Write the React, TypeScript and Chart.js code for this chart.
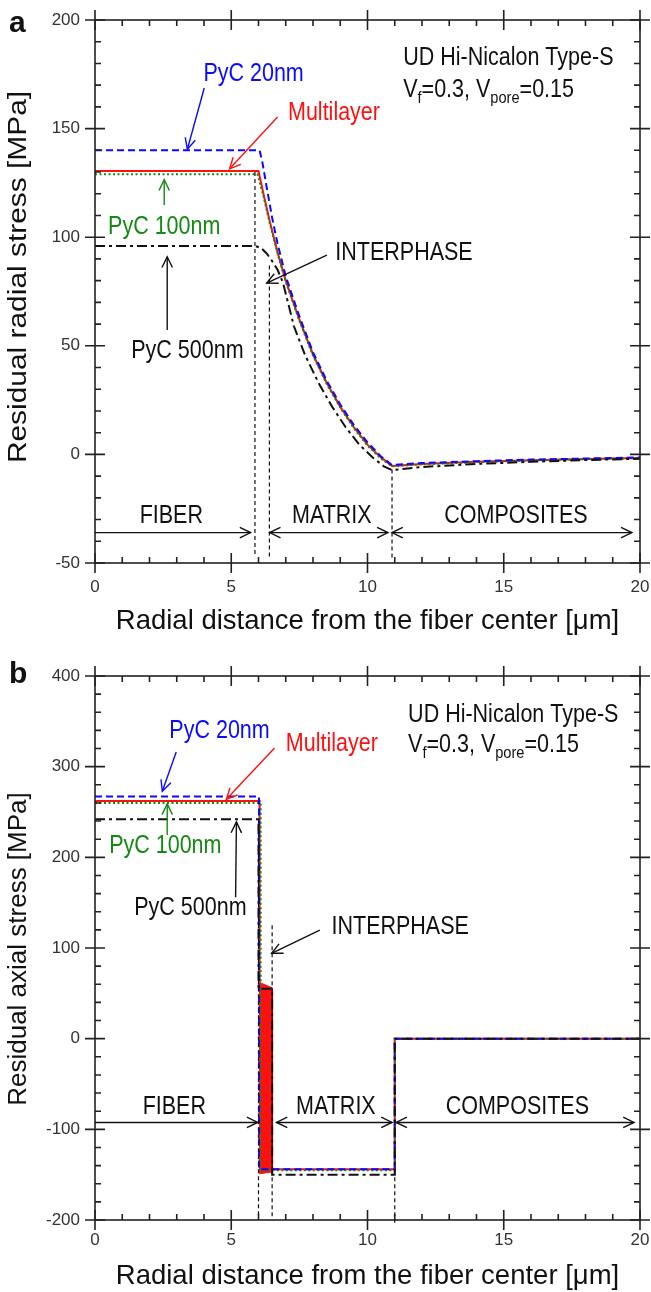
import React, { useEffect, useRef } from "react";
import { Chart, registerables } from "chart.js";

Chart.register(...registerables);

const FONT = "Arial, 'Liberation Sans', Helvetica, sans-serif";
const SX = 0.86; // horizontal condensing of the annotation font

// ---------------- shared x axis ----------------
const xTickValues = [0, 5, 10, 15, 20];
const xTitle = "Radial distance from the fiber center [\u03bcm]";

// ---------------- (a) residual radial stress ----------------
const radialTickValues = [-50, 0, 50, 100, 150, 200];

const radialMultiX = [0, 6.0, 6.2, 6.4, 6.7, 7.0, 7.5, 8.0, 8.5, 9.0, 9.5, 10.0, 10.5, 10.9, 12, 14, 16, 18, 20];
const radialMultiY = [130.5, 130.5, 119, 108, 93, 80, 62, 46, 33, 22, 12.5, 4.5, -1.5, -5.3, -4.4, -3.4, -2.7, -2.1, -1.6];

const radialPyC20X = [0, 6.04, 6.15, 6.3, 6.5, 6.7, 7.0, 7.5, 8.0, 8.5, 9.0, 9.5, 10.0, 10.5, 10.9, 12, 14, 16, 18, 20];
const radialPyC20Y = [140, 140, 134, 123, 109, 97, 82, 63.5, 47, 34, 23, 13.5, 5.5, -1, -4.9, -4.0, -3.1, -2.4, -1.9, -1.4];

const radialPyC100X = [0, 5.96, 6.05, 6.2, 6.4, 6.7, 7.0, 7.5, 8.0, 8.5, 9.0, 9.5, 10.0, 10.5, 10.9, 12, 14, 16, 18, 20];
const radialPyC100Y = [129, 129, 125, 118, 107, 92.5, 79.5, 61.5, 45.5, 32.5, 21.5, 12, 4, -2, -5.5, -4.6, -3.6, -2.8, -2.2, -1.7];

const radialPyC500X = [0, 5.87, 6.1, 6.3, 6.5, 6.7, 6.9, 7.1, 7.3, 7.7, 8.2, 8.7, 9.2, 9.7, 10.2, 10.6, 10.9, 12, 14, 16, 18, 20];
const radialPyC500Y = [96, 96, 95, 92.5, 89, 85, 79, 69, 59, 46, 33, 22, 12.5, 4.5, -1.5, -5.5, -7.2, -5.8, -4.4, -3.4, -2.6, -2.0];

const radialBoundaryX = [5.87, 6.4, 10.9];
const radialBoundaryTop = [130, 87, -7];
const radialBoundaryBottom = [-47, -47, -48];

// ---------------- (b) residual axial stress ----------------
const axialTickValues = [-200, -100, 0, 100, 200, 300, 400];

const axialMultiX = [0, 6.04, 6.04, 6.5, 6.5, 11.0, 11.0, 20];
const axialMultiY = [262, 262, 60, 55, -144, -144, 0, 0];

const axialBandX = [6.04, 6.5, 6.5, 6.04, 6.04];
const axialBandY = [62, 56, -147, -149, 62];

const axialPyC20X = [0, 6.02, 6.02, 11.0, 11.0, 20];
const axialPyC20Y = [267, 267, -144, -144, 0, 0];

const axialPyC100X = [0, 6.08, 6.08, 11.0, 11.0, 20];
const axialPyC100Y = [260, 260, -145, -145, 0, 0];

const axialPyC500X = [0, 6.0, 6.0, 6.5, 6.5, 11.0, 11.0, 20];
const axialPyC500Y = [242, 242, 55, 55, -150, -150, 0, 0];

const axialBoundaryX = [6.0, 6.5, 11.0];
const axialBoundaryTop = [242, 125, -145];
const axialBoundaryBottom = [-196, -197, -203];

// ---------------- styling ----------------
const BLUE = "#0a0aff";
const RED = "#ff1010";
const GREEN = "#148a14";
const BLACK = "#111111";

type Item =
  | { t: "text"; s: string; x: number; y: number; c: string; left?: boolean }
  | { t: "vf"; x: number; y: number }
  | { t: "arrow"; x1: number; y1: number; x2: number; y2: number; c: string; both?: boolean };

const radialItems: Item[] = [
  { t: "text", s: "PyC 20nm", x: 5.82, y: 175.1, c: BLUE },
  { t: "arrow", x1: 4.01, y1: 168.7, x2: 3.39, y2: 140.5, c: BLUE },
  { t: "text", s: "Multilayer", x: 8.77, y: 157.2, c: RED },
  { t: "arrow", x1: 6.7, y1: 155.3, x2: 4.94, y2: 131.5, c: RED },
  { t: "text", s: "PyC 100nm", x: 2.54, y: 104.7, c: GREEN },
  { t: "arrow", x1: 2.54, y1: 114.8, x2: 2.54, y2: 126.5, c: GREEN },
  { t: "text", s: "PyC 500nm", x: 3.39, y: 47.6, c: BLACK },
  { t: "arrow", x1: 2.65, y1: 57.3, x2: 2.65, y2: 91, c: BLACK },
  { t: "text", s: "INTERPHASE", x: 11.34, y: 92.7, c: BLACK },
  { t: "arrow", x1: 8.51, y1: 91.8, x2: 6.3, y2: 78.9, c: BLACK },
  { t: "text", s: "UD Hi-Nicalon Type-S", x: 11.31, y: 182.5, c: BLACK, left: true },
  { t: "vf", x: 11.31, y: 167.8 },
  { t: "text", s: "FIBER", x: 2.8, y: -28.4, c: BLACK },
  { t: "text", s: "MATRIX", x: 8.69, y: -28.4, c: BLACK },
  { t: "text", s: "COMPOSITES", x: 15.45, y: -28.4, c: BLACK },
  { t: "arrow", x1: 0, y1: -36, x2: 5.71, y2: -36, c: BLACK },
  { t: "arrow", x1: 6.41, y1: -36, x2: 10.75, y2: -36, c: BLACK, both: true },
  { t: "arrow", x1: 10.9, y1: -36, x2: 19.7, y2: -36, c: BLACK, both: true },
];

const axialItems: Item[] = [
  { t: "text", s: "PyC 20nm", x: 4.57, y: 339.3, c: BLUE },
  { t: "arrow", x1: 2.98, y1: 316.1, x2: 2.47, y2: 273, c: BLUE },
  { t: "text", s: "Multilayer", x: 8.69, y: 324.9, c: RED },
  { t: "arrow", x1: 6.59, y1: 320.5, x2: 4.82, y2: 264, c: RED },
  { t: "text", s: "PyC 100nm", x: 2.58, y: 212.3, c: GREEN },
  { t: "arrow", x1: 2.65, y1: 224.5, x2: 2.65, y2: 259, c: GREEN },
  { t: "text", s: "PyC 500nm", x: 3.5, y: 143.9, c: BLACK },
  { t: "arrow", x1: 5.16, y1: 156, x2: 5.19, y2: 239, c: BLACK },
  { t: "text", s: "INTERPHASE", x: 11.2, y: 122.9, c: BLACK },
  { t: "arrow", x1: 8.25, y1: 119.6, x2: 6.48, y2: 94.2, c: BLACK },
  { t: "text", s: "UD Hi-Nicalon Type-S", x: 11.49, y: 357, c: BLACK, left: true },
  { t: "vf", x: 11.49, y: 323.8 },
  { t: "text", s: "FIBER", x: 2.91, y: -75.8, c: BLACK },
  { t: "text", s: "MATRIX", x: 8.84, y: -75.8, c: BLACK },
  { t: "text", s: "COMPOSITES", x: 15.5, y: -75.8, c: BLACK },
  { t: "arrow", x1: 0, y1: -92.4, x2: 5.97, y2: -92.4, c: BLACK },
  { t: "arrow", x1: 6.66, y1: -92.4, x2: 10.9, y2: -92.4, c: BLACK, both: true },
  { t: "arrow", x1: 11.05, y1: -92.4, x2: 19.78, y2: -92.4, c: BLACK, both: true },
];

// ---------------- helpers ----------------
const pts = (xs: number[], ys: number[]) => xs.map((x, i) => ({ x, y: ys[i] }));

function lineDs(label: string, xs: number[], ys: number[], color: string, dash: number[], order: number) {
  return {
    label,
    data: pts(xs, ys),
    borderColor: color,
    backgroundColor: color,
    borderWidth: 2,
    borderDash: dash,
    pointRadius: 0,
    tension: 0,
    fill: false,
    order,
  };
}

function drawHead(ctx: CanvasRenderingContext2D, x1: number, y1: number, x2: number, y2: number, len: number) {
  const a = Math.atan2(y2 - y1, x2 - x1);
  const w = 0.45;
  ctx.beginPath();
  ctx.moveTo(x2 - len * Math.cos(a - w), y2 - len * Math.sin(a - w));
  ctx.lineTo(x2, y2);
  ctx.lineTo(x2 - len * Math.cos(a + w), y2 - len * Math.sin(a + w));
  ctx.stroke();
}

function narrowText(ctx: CanvasRenderingContext2D, s: string, x: number, y: number, size: number) {
  ctx.save();
  ctx.font = `${size}px ${FONT}`;
  ctx.translate(x, y);
  ctx.scale(SX, 1);
  ctx.textAlign = "left";
  ctx.fillText(s, 0, 0);
  ctx.restore();
}

function narrowWidth(ctx: CanvasRenderingContext2D, s: string, size: number) {
  ctx.save();
  ctx.font = `${size}px ${FONT}`;
  const w = ctx.measureText(s).width * SX;
  ctx.restore();
  return w;
}

function framePlugin(xMinor: number, xMajor: number, yMinor: number, yMajor: number) {
  return {
    id: "frame",
    afterDatasetsDraw(chart: any) {
      const { ctx, chartArea } = chart;
      const { left, right, top, bottom } = chartArea;
      const xs = chart.scales.x;
      const ys = chart.scales.y;
      ctx.save();
      ctx.setLineDash([]);
      ctx.strokeStyle = "#222";
      ctx.lineWidth = 1.6;
      ctx.strokeRect(left, top, right - left, bottom - top);
      ctx.beginPath();
      const nx = Math.round((xs.max - xs.min) / xMinor);
      for (let i = 0; i <= nx; i++) {
        const v = xs.min + i * xMinor;
        const p = xs.getPixelForValue(v);
        const major = Math.abs(v / xMajor - Math.round(v / xMajor)) < 1e-6;
        if (major) {
          ctx.moveTo(p, bottom + 10); ctx.lineTo(p, bottom - 10);
          ctx.moveTo(p, top - 10); ctx.lineTo(p, top + 10);
        } else {
          ctx.moveTo(p, bottom); ctx.lineTo(p, bottom - 6);
          ctx.moveTo(p, top); ctx.lineTo(p, top + 6);
        }
      }
      const ny = Math.round((ys.max - ys.min) / yMinor);
      for (let i = 0; i <= ny; i++) {
        const v = ys.min + i * yMinor;
        const p = ys.getPixelForValue(v);
        const major = Math.abs(v / yMajor - Math.round(v / yMajor)) < 1e-6;
        if (major) {
          ctx.moveTo(left - 10, p); ctx.lineTo(left + 10, p);
          ctx.moveTo(right - 10, p); ctx.lineTo(right + 10, p);
        } else {
          ctx.moveTo(left, p); ctx.lineTo(left + 6, p);
          ctx.moveTo(right, p); ctx.lineTo(right - 6, p);
        }
      }
      ctx.stroke();
      ctx.restore();
    },
  };
}

type Cfg = {
  datasets: any[];
  yMin: number;
  yMax: number;
  yTicks: number[];
  yTitle: string;
  yTitleCenter: number; // canvas y of the rotated title's centre
  yTitleStretch: number;
  yMinor: number;
  yMajor: number;
  top: number;
  xAxisHeight: number;
  xTickPad: number;
  xTitlePad: number;
  items: Item[];
  bx: number[];
  bTop: number[];
  bBottom: number[];
  panel: string;
  panelBase: number;
};

function annotPlugin(o: Cfg) {
  return {
    id: "annot",
    afterDraw(chart: any) {
      const { ctx } = chart;
      const X = (v: number) => chart.scales.x.getPixelForValue(v);
      const Y = (v: number) => chart.scales.y.getPixelForValue(v);
      ctx.save();
      // region boundaries (dashed verticals)
      ctx.strokeStyle = BLACK;
      ctx.lineWidth = 1.2;
      ctx.setLineDash([4, 3]);
      o.bx.forEach((x, i) => {
        ctx.beginPath();
        ctx.moveTo(X(x), Y(o.bTop[i]));
        ctx.lineTo(X(x), Y(o.bBottom[i]));
        ctx.stroke();
      });
      ctx.setLineDash([]);
      ctx.textBaseline = "middle";
      for (const it of o.items) {
        if (it.t === "text") {
          ctx.fillStyle = it.c;
          const w = narrowWidth(ctx, it.s, 25);
          const x0 = it.left ? X(it.x) : X(it.x) - w / 2;
          narrowText(ctx, it.s, x0, Y(it.y), 25);
        } else if (it.t === "vf") {
          ctx.fillStyle = BLACK;
          const parts: [string, boolean][] = [["V", false], ["f", true], ["=0.3, V", false], ["pore", true], ["=0.15", false]];
          let cx = X(it.x);
          const cy = Y(it.y);
          for (const [s, sub] of parts) {
            const size = sub ? 17 : 25;
            narrowText(ctx, s, cx, cy + (sub ? 8 : 0), size);
            cx += narrowWidth(ctx, s, size);
          }
        } else {
          ctx.strokeStyle = it.c;
          ctx.lineWidth = 1.4;
          const x1 = X(it.x1), y1 = Y(it.y1), x2 = X(it.x2), y2 = Y(it.y2);
          ctx.beginPath();
          ctx.moveTo(x1, y1);
          ctx.lineTo(x2, y2);
          ctx.stroke();
          drawHead(ctx, x1, y1, x2, y2, 12);
          if (it.both) drawHead(ctx, x2, y2, x1, y1, 12);
        }
      }
      // y-axis title (rotated)
      ctx.fillStyle = BLACK;
      ctx.font = `26px ${FONT}`;
      ctx.textAlign = "center";
      ctx.textBaseline = "middle";
      ctx.save();
      ctx.translate(19, o.yTitleCenter);
      ctx.rotate(-Math.PI / 2);
      ctx.scale(o.yTitleStretch, 1);
      ctx.fillText(o.yTitle, 0, 0);
      ctx.restore();
      // panel letter
      ctx.font = `bold 30px ${FONT}`;
      ctx.textBaseline = "alphabetic";
      ctx.textAlign = "left";
      ctx.fillText(o.panel, 9, o.panelBase);
      ctx.restore();
    },
  };
}

function makeConfig(o: Cfg): any {
  const tickFont = { family: FONT, size: 17 };
  const titleFont = { family: FONT, size: 27.5, lineHeight: 1 };
  return {
    type: "line",
    data: { datasets: o.datasets },
    options: {
      responsive: false,
      maintainAspectRatio: false,
      animation: false,
      events: [],
      layout: { padding: { top: o.top, right: 11, left: 0, bottom: 0 } },
      plugins: { legend: { display: false }, tooltip: { enabled: false } },
      scales: {
        x: {
          type: "linear",
          min: 0,
          max: 20,
          afterBuildTicks: (s: any) => {
            s.ticks = xTickValues.map((v) => ({ value: v }));
          },
          afterFit: (s: any) => {
            s.height = o.xAxisHeight;
            s.paddingLeft = 0;
            s.paddingRight = 0;
          },
          grid: { display: false, drawTicks: false },
          border: { display: false },
          ticks: { font: tickFont, color: "#333", padding: o.xTickPad, maxRotation: 0, autoSkip: false },
          title: { display: true, text: xTitle, font: titleFont, color: "#111", padding: { top: 0, bottom: o.xTitlePad } },
        },
        y: {
          type: "linear",
          min: o.yMin,
          max: o.yMax,
          afterBuildTicks: (s: any) => {
            s.ticks = o.yTicks.map((v) => ({ value: v }));
          },
          afterFit: (s: any) => {
            s.width = 95;
            s.paddingTop = 0;
            s.paddingBottom = 0;
          },
          grid: { display: false, drawTicks: false },
          border: { display: false },
          ticks: { font: tickFont, color: "#333", padding: 15, autoSkip: false },
          title: { display: false },
        },
      },
    },
    plugins: [framePlugin(1, 5, o.yMinor, o.yMajor), annotPlugin(o)],
  };
}

function StressChart({ cfg, height }: { cfg: Cfg; height: number }) {
  const ref = useRef<HTMLCanvasElement>(null);
  useEffect(() => {
    const chart = new Chart(ref.current as HTMLCanvasElement, makeConfig(cfg));
    return () => chart.destroy();
  }, [cfg]);
  return <canvas ref={ref} width={651} height={height} style={{ display: "block", width: 651, height }} />;
}

const radialCfg: Cfg = {
  datasets: [
    lineDs("PyC 500nm", radialPyC500X, radialPyC500Y, BLACK, [10, 4, 3, 4], 1),
    lineDs("PyC 20nm", radialPyC20X, radialPyC20Y, BLUE, [7, 4], 2),
    lineDs("PyC 100nm", radialPyC100X, radialPyC100Y, GREEN, [2, 2.5], 3),
    lineDs("Multilayer", radialMultiX, radialMultiY, RED, [], 4),
  ],
  yMin: -50,
  yMax: 200,
  yTicks: radialTickValues,
  yTitle: "Residual radial stress [MPa]",
  yTitleCenter: 277,
  yTitleStretch: 1.15,
  yMinor: 10,
  yMajor: 50,
  top: 20,
  xAxisHeight: 83,
  xTickPad: 14,
  xTitlePad: 11,
  items: radialItems,
  bx: radialBoundaryX,
  bTop: radialBoundaryTop,
  bBottom: radialBoundaryBottom,
  panel: "a",
  panelBase: 32,
};

const axialCfg: Cfg = {
  datasets: [
    lineDs("PyC 500nm", axialPyC500X, axialPyC500Y, BLACK, [10, 4, 3, 4], 1),
    lineDs("PyC 20nm", axialPyC20X, axialPyC20Y, BLUE, [7, 4], 2),
    lineDs("PyC 100nm", axialPyC100X, axialPyC100Y, GREEN, [2, 2.5], 3),
    lineDs("Multilayer", axialMultiX, axialMultiY, RED, [], 4),
    {
      label: "Multilayer interphase",
      data: pts(axialBandX, axialBandY),
      borderColor: RED,
      backgroundColor: RED,
      borderWidth: 1,
      pointRadius: 0,
      tension: 0,
      fill: "shape",
      order: 9,
    },
  ],
  yMin: -200,
  yMax: 400,
  yTicks: axialTickValues,
  yTitle: "Residual axial stress [MPa]",
  yTitleCenter: 303,
  yTitleStretch: 1.0,
  yMinor: 20,
  yMajor: 100,
  top: 30,
  xAxisHeight: 72,
  xTickPad: 10,
  xTitlePad: 2,
  items: axialItems,
  bx: axialBoundaryX,
  bTop: axialBoundaryTop,
  bBottom: axialBoundaryBottom,
  panel: "b",
  panelBase: 37,
};

export default function App() {
  return (
    <div style={{ position: "absolute", left: 0, top: 0, width: 651, height: 1292, background: "#fff" }}>
      <StressChart cfg={radialCfg} height={646} />
      <StressChart cfg={axialCfg} height={646} />
    </div>
  );
}
